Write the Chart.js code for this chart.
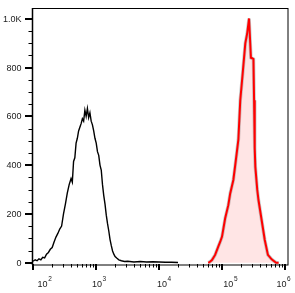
<!DOCTYPE html>
<html>
<head>
<meta charset="utf-8">
<script src="https://cdn.jsdelivr.net/npm/chart.js@4.4.0/dist/chart.umd.min.js"></script>
<style>
html,body{margin:0;padding:0;background:#fff;}
#wrap{width:295px;height:293px;}
</style>
</head>
<body>
<div id="wrap"><canvas id="c" width="295" height="293"></canvas></div>
<script>
// log10(fluorescence) positions and event counts
const blackLog = [1.995,2.03,2.06,2.09,2.12,2.15,2.18,2.21,2.24,2.27,2.30,2.33,2.36,2.39,2.42,2.45,2.48,2.51,2.54,2.57,2.60,2.62,2.64,2.66,2.68,2.70,2.72,2.74,2.76,2.78,2.80,2.82,2.84,2.86,2.88,2.90,2.92,2.94,2.96,2.98,3.00,3.02,3.04,3.06,3.08,3.10,3.12,3.14,3.16,3.18,3.20,3.22,3.24,3.26,3.28,3.30,3.33,3.36,3.40,3.45,3.50,3.60,3.70,3.80,3.90,4.00,4.10,4.20,4.30];
const blackCounts = [6,12,8,16,12,22,20,35,42,55,62,85,105,120,138,150,200,240,285,320,345,330,415,430,490,510,540,555,570,590,580,625,600,632,595,615,580,565,540,510,490,455,440,400,380,320,275,240,195,160,130,95,70,48,35,25,18,12,8,5,6,3,5,3,4,3,2,2,1];
const redLog = [4.78,4.80,4.84,4.89,4.94,4.97,5.00,5.05,5.10,5.13,5.18,5.21,5.24,5.26,5.29,5.33,5.37,5.40,5.43,5.46,5.48,5.50,5.51,5.52,5.53,5.56,5.58,5.63,5.68,5.73,5.79,5.86,5.90];
const redCounts = [0,2,11,32,66,85,107,182,236,284,339,400,462,505,666,780,899,940,1001,840,838,835,666,470,393,300,257,175,93,32,14,0,0];
const yTickValues = [0,200,400,600,800,1000];
const yTickLabels = ["0","200","400","600","800","1.0K"];
const xDecades = [2,3,4,5,6];

const toPts = (xs, ys) => xs.map((x,i)=>({x:x,y:ys[i]}));

const axesPlugin = {
  id:'axesPlugin',
  afterDraw(chart){
    const ctx = chart.ctx;
    const a = chart.chartArea;
    const xs = chart.scales.x, ys = chart.scales.y;
    ctx.save();
    // frame
    ctx.strokeStyle = '#000';
    ctx.lineWidth = 1;
    ctx.strokeRect(a.left-0.5, a.top+0.5, a.right-a.left-0.5, a.bottom-a.top-0.5);
    ctx.beginPath();
    ctx.moveTo(a.left-0.5, a.top); ctx.lineTo(a.left-0.5, a.bottom);
    ctx.lineWidth = 1.5; ctx.stroke();
    // y minor ticks
    ctx.lineWidth = 1;
    for (let v = 0; v <= 1000; v += 50) {
      if (v % 200 === 0) continue;
      const y = Math.round(ys.getPixelForValue(v)) + 0.5;
      ctx.beginPath(); ctx.moveTo(a.left-4.5, y); ctx.lineTo(a.left, y); ctx.stroke();
    }
    // y major ticks + labels
    ctx.lineWidth = 2;
    ctx.font = '9px "Liberation Sans", Arial, sans-serif';
    ctx.fillStyle = '#222';
    ctx.textAlign = 'right';
    ctx.textBaseline = 'middle';
    yTickValues.forEach((v,i)=>{
      const y = Math.round(ys.getPixelForValue(v));
      ctx.beginPath(); ctx.moveTo(a.left-8, y); ctx.lineTo(a.left, y); ctx.stroke();
      ctx.fillText(yTickLabels[i], a.left-11.5, y+0.5);
    });
    // x minor ticks
    ctx.lineWidth = 1;
    for (let d = 2; d <= 6; d++) {
      for (let k = 2; k <= 9; k++) {
        const lv = d + Math.log10(k);
        if (lv > xs.max) continue;
        const x = Math.round(xs.getPixelForValue(lv)) + 0.5;
        ctx.beginPath(); ctx.moveTo(x, a.bottom-1); ctx.lineTo(x, a.bottom+2.5); ctx.stroke();
      }
    }
    // x major ticks + labels
    const offs = [4.6, -4, -2, 1.3, -8.6];
    xDecades.forEach((d,i)=>{
      const x = Math.round(xs.getPixelForValue(d));
      ctx.lineWidth = 2;
      ctx.beginPath(); ctx.moveTo(x, a.bottom-1); ctx.lineTo(x, a.bottom+5); ctx.stroke();
      ctx.textAlign = 'left';
      ctx.textBaseline = 'alphabetic';
      ctx.font = '9px "Liberation Sans", Arial, sans-serif';
      const lx = x + offs[i];
      ctx.fillText('10', lx, 286.5);
      const w = ctx.measureText('10').width;
      ctx.font = '6.5px "Liberation Sans", Arial, sans-serif';
      ctx.fillText(String(d), lx + w + 0.6, 281);
    });
    ctx.restore();
  }
};

new Chart(document.getElementById('c'), {
  type:'line',
  data:{
    datasets:[
      {data:toPts(redLog, redCounts), borderColor:'rgba(130,140,140,0.45)', borderWidth:3.5, pointRadius:0, tension:0, fill:false, order:3},
      {data:toPts(redLog, redCounts), borderColor:'#ff0000', borderWidth:2, backgroundColor:'rgba(255,0,0,0.1)', pointRadius:0, tension:0, fill:'origin', order:2},
      {data:toPts(blackLog, blackCounts), borderColor:'#000', borderWidth:1.4, pointRadius:0, tension:0, fill:false, order:1}
    ]
  },
  options:{
    responsive:false,
    devicePixelRatio:1,
    animation:false,
    events:[],
    layout:{padding:{left:33, top:8, right:6, bottom:28}},
    plugins:{legend:{display:false}, tooltip:{enabled:false}},
    scales:{
      x:{type:'linear', min:1.995, max:6.065, display:false},
      y:{type:'linear', min:-9.4, max:1044, display:false}
    }
  },
  plugins:[axesPlugin]
});
</script>
</body>
</html>
